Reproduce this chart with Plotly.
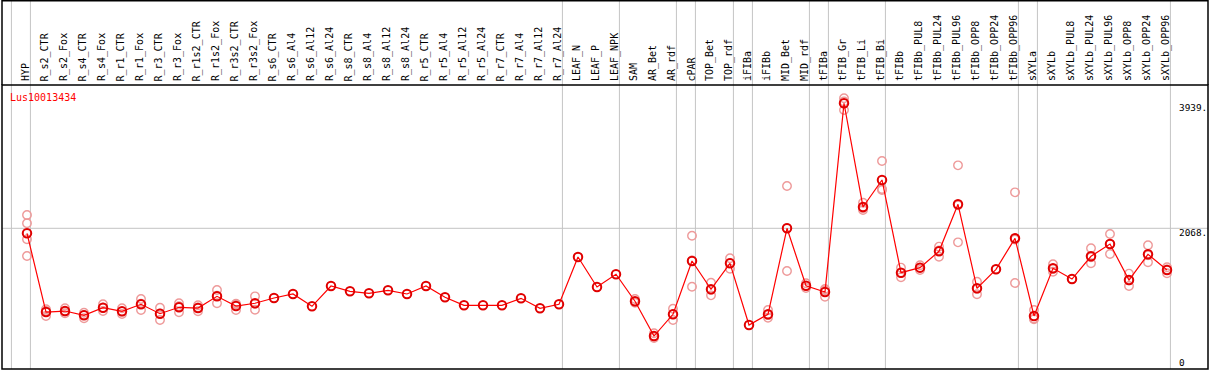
import plotly.graph_objects as go

categories = ["HYP", "R_s2_CTR", "R_s2_Fox", "R_s4_CTR", "R_s4_Fox", "R_r1_CTR", "R_r1_Fox",
              "R_r3_CTR", "R_r3_Fox", "R_r1s2_CTR", "R_r1s2_Fox", "R_r3s2_CTR", "R_r3s2_Fox",
              "R_s6_CTR", "R_s6_Al4", "R_s6_Al12", "R_s6_Al24", "R_s8_CTR", "R_s8_Al4",
              "R_s8_Al12", "R_s8_Al24", "R_r5_CTR", "R_r5_Al4", "R_r5_Al12", "R_r5_Al24",
              "R_r7_CTR", "R_r7_Al4", "R_r7_Al12", "R_r7_Al24", "LEAF_N", "LEAF_P", "LEAF_NPK",
              "SAM", "AR_Bet", "AR_rdf", "cPAR", "TOP_Bet", "TOP_rdf", "iFIBa", "iFIBb",
              "MID_Bet", "MID_rdf", "tFIBa", "tFIB_Gr", "tFIB_Li", "tFIB_Bi", "tFIBb",
              "tFIBb_PUL8", "tFIBb_PUL24", "tFIBb_PUL96", "tFIBb_OPP8", "tFIBb_OPP24",
              "tFIBb_OPP96", "sXYLa", "sXYLb", "sXYLb_PUL8", "sXYLb_PUL24", "sXYLb_PUL96",
              "sXYLb_OPP8", "sXYLb_OPP24", "sXYLb_OPP96"]

mean_values = [1993, 815, 830, 766, 880, 826, 931, 790, 886, 875, 1050, 905, 946,
               1025, 1085, 901, 1205, 1125, 1095, 1140, 1085, 1205, 1035, 916, 916,
               916, 1020, 871, 931, 1638, 1190, 1380, 976, 456, 781, 1579, 1155, 1544,
               621, 781, 2068, 1209, 1115, 3939, 2387, 2791, 1404, 1479, 1724, 2427,
               1170, 1454, 1918, 756, 1469, 1309, 1649, 1833, 1294, 1679, 1444]

replicates = [
    [2267, 2143, 1903, 1653], [856, 756, 833], [871, 796, 823], [805, 721, 772],
    [931, 830, 879], [871, 786, 821], [1010, 845, 938], [880, 696, 794],
    [946, 811, 901], [916, 826, 883], [1145, 946, 1059], [940, 845, 930],
    [1050, 850, 938], [], [], [], [], [], [], [], [], [], [], [], [], [], [], [], [],
    [], [], [], [1010, 965, 953], [497, 446, 425], [865, 696, 782], [1957, 1194, 1586],
    [1254, 1065, 1146], [1619, 1463, 1550], [], [845, 730, 768], [2701, 1429, 2074],
    [1245, 1175, 1207], [1160, 1044, 1141], [4013, 3838, 3966], [2451, 2342, 2368],
    [3075, 2641, 2657], [1479, 1335, 1398], [1514, 1444, 1479], [1793, 1643, 1736],
    [3010, 1858, 2413], [1269, 1080, 1161], [1454], [2606, 1249, 1899],
    [845, 706, 717], [1529, 1418, 1460], [1309], [1769, 1544, 1634], [1983, 1683, 1833],
    [1389, 1205, 1288], [1814, 1559, 1664], [1484, 1395, 1453]]

right_ticks = [3939, 2068, 0]
right_tick_labels = ["3939.", "2068.", "0"]
separators_after = [-1, 0, 28, 31, 34, 35, 37, 38, 41, 42, 45, 52, 53, 60]
gene_id = "Lus10013434"

W, H = 1209, 370
ML, MR, MT, MB = 2, 1, 85, 1
plot_w = W - ML - MR
plot_h = H - MT - MB
px_per_cat = 19
first_px = 27
x0 = -(first_px - ML) / px_per_cat
x1 = x0 + plot_w / px_per_cat
zero_px = 366.5
px_per_unit = 0.06683
y_lo = (zero_px - (H - MB)) / px_per_unit
y_hi = (zero_px - MT) / px_per_unit

def ypaper(px):
    return 1 + (MT - px) / plot_h

FONT = "DejaVu Sans Mono"
xs = list(range(len(categories)))

fig = go.Figure()

rx, ry = [], []
for i, reps in enumerate(replicates):
    for v in reps:
        rx.append(i)
        ry.append(v)
fig.add_trace(go.Scatter(x=rx, y=ry, mode="markers",
                         marker=dict(symbol="circle-open", size=8.5, color="#ee9a9a",
                                     line=dict(width=1.4, color="#ee9a9a")),
                         hoverinfo="skip", showlegend=False, cliponaxis=False))
fig.add_trace(go.Scatter(x=xs, y=mean_values, mode="lines+markers",
                         line=dict(color="#ff0000", width=1.2),
                         marker=dict(symbol="circle-open", size=8.5, color="#e00000",
                                     line=dict(width=2, color="#e00000")),
                         showlegend=False, cliponaxis=False))

shapes = []
for k in separators_after:
    xv = k + 0.18
    shapes.append(dict(type="line", xref="x", yref="paper", x0=xv, x1=xv,
                       y0=0, y1=ypaper(0), line=dict(color="#c4c4c4", width=1), layer="below"))
shapes.append(dict(type="line", xref="paper", yref="y", x0=0, x1=1, y0=right_ticks[1],
                   y1=right_ticks[1], line=dict(color="#c4c4c4", width=1), layer="below"))
# frame
shapes.append(dict(type="rect", xref="paper", yref="paper", x0=0, x1=1, y0=0, y1=1,
                   line=dict(color="black", width=1.5)))
shapes.append(dict(type="line", xref="paper", yref="paper", x0=0, x1=0, y0=1, y1=ypaper(0),
                   line=dict(color="black", width=1.5)))
shapes.append(dict(type="line", xref="paper", yref="paper", x0=1, x1=1, y0=1, y1=ypaper(0),
                   line=dict(color="black", width=1.5)))
shapes.append(dict(type="line", xref="paper", yref="paper", x0=0, x1=1, y0=ypaper(0.7),
                   y1=ypaper(0.7), line=dict(color="black", width=1.5)))

annotations = []
for i, c in enumerate(categories):
    annotations.append(dict(x=i, y=ypaper(83.5), xref="x", yref="paper", text=c,
                            textangle=-90, showarrow=False, xanchor="center", yanchor="bottom",
                            xshift=-1.5, font=dict(family=FONT, size=10, color="black")))
for v, t in zip(right_ticks, right_tick_labels):
    annotations.append(dict(x=(1178 - ML) / plot_w, y=v, xref="paper", yref="y", text=t,
                            showarrow=False, xanchor="left", yanchor="middle",
                            yshift=(4.5 if v == 0 else -4.4), borderpad=0,
                            font=dict(family=FONT, size=9.4, color="black")))
annotations.append(dict(x=(8 - ML) / plot_w, y=ypaper(97.7), xref="paper", yref="paper",
                        text=gene_id, showarrow=False, xanchor="left", yanchor="middle",
                        font=dict(family=FONT, size=10, color="#ff0000")))

fig.update_layout(
    width=W, height=H, margin=dict(l=ML, r=MR, t=MT, b=MB, pad=0),
    paper_bgcolor="white", plot_bgcolor="white",
    xaxis=dict(range=[x0, x1], showgrid=False, zeroline=False, showticklabels=False,
               ticks="", fixedrange=True),
    yaxis=dict(range=[y_lo, y_hi], showgrid=False, zeroline=False, showticklabels=False,
               ticks="", fixedrange=True),
    shapes=shapes, annotations=annotations, showlegend=False,
)

fig.write_html("out.html", config={"displayModeBar": False},
               post_script="document.body.style.margin='0';document.body.style.padding='0';"
                           "document.body.style.overflow='hidden';")
